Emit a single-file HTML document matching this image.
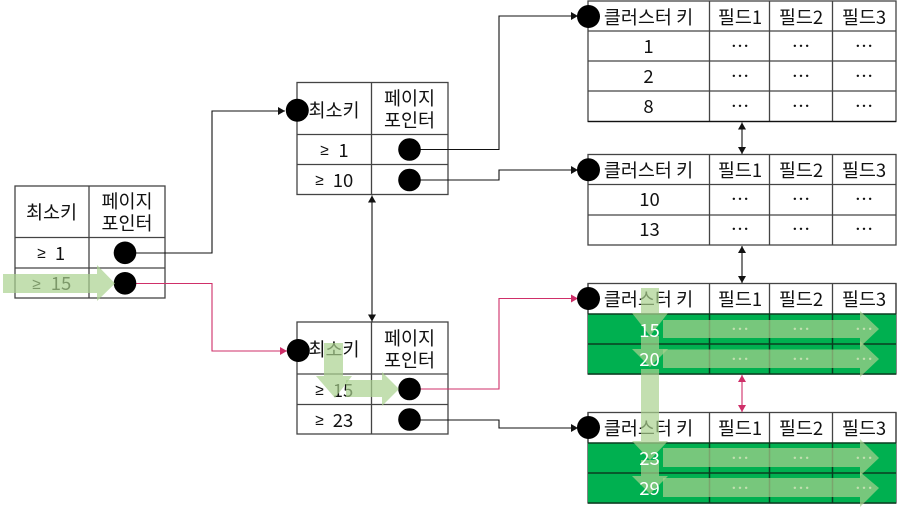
<!DOCTYPE html>
<html><head><meta charset="utf-8">
<style>
html,body{margin:0;padding:0;background:#fff;width:921px;height:513px;overflow:hidden}
svg{display:block;filter:blur(.35px)}
text{font-family:"Noto Sans CJK KR","Liberation Sans",sans-serif;font-size:18.500px;text-anchor:middle;fill:#111;transform:translateY(1px)}
.s{font-family:"Liberation Sans",sans-serif;font-size:15.500px}
.w{fill:#fff}
.t{fill:#fff;stroke:#444;stroke-width:1.3}
.l{fill:none;stroke:#444;stroke-width:1.3}
.g{fill:#00b050;stroke:none}
.d{fill:none;stroke:#0a3d20;stroke-width:1.5}
.b{fill:none;stroke:#111;stroke-width:1.1}
.p{fill:none;stroke:#cf2f69;stroke-width:1.1}
.a{fill:#a9d18e;opacity:.7}
</style></head><body>
<svg width="921" height="513" viewBox="0 0 921 513" xmlns="http://www.w3.org/2000/svg">
<defs>
<marker id="mb" markerWidth="8" markerHeight="8" refX="7" refY="4" orient="auto-start-reverse" markerUnits="userSpaceOnUse"><path d="M0 0L7 4L0 8Z" fill="#111"/></marker>
<marker id="mp" markerWidth="8" markerHeight="8" refX="7" refY="4" orient="auto-start-reverse" markerUnits="userSpaceOnUse"><path d="M0 0L7 4L0 8Z" fill="#cf2f69"/></marker>
</defs>

<!-- left table -->
<rect class="t" x="15" y="186" width="150" height="112"/>
<path class="l" d="M89 186V298M15 237.500H165M15 268H165"/>
<text x="51.500" y="218">최소키</text>
<text x="127" y="207">페이지</text>
<text x="127" y="229">포인터</text>
<text class="s" x="41.500" y="257">≥</text><text x="60" y="259">1</text>
<text class="s" x="36.500" y="288">≥</text><text x="61" y="289">15</text>

<!-- middle tables -->
<rect class="t" x="297" y="82.500" width="151" height="112"/>
<path class="l" d="M371.500 82.500V194.500M297 134.500H448M297 164.500H448"/>
<text x="334" y="116">최소키</text>
<text x="409.500" y="104">페이지</text>
<text x="409.500" y="126">포인터</text>
<text class="s" x="324.500" y="154">≥</text><text x="343.500" y="156">1</text>
<text class="s" x="319.500" y="184">≥</text><text x="343" y="186">10</text>

<rect class="t" x="297" y="322" width="151" height="112"/>
<path class="l" d="M371.500 322V434M297 374H448M297 404.500H448"/>
<text x="334" y="355">최소키</text>
<text x="409.500" y="344">페이지</text>
<text x="409.500" y="366">포인터</text>
<text class="s" x="319.500" y="394">≥</text><text x="343" y="396">15</text>
<text class="s" x="319.500" y="424">≥</text><text x="343" y="426">23</text>

<!-- right table 1 -->
<rect class="t" x="588" y="1" width="308" height="120.500"/>
<path class="l" d="M709.500 1V121.500M769.500 1V121.500M832.500 1V121.500M588 31H896M588 61H896M588 91H896"/>
<path d="M588 121.500H896" stroke="#111" stroke-width="1.3"/>
<text x="648.500" y="23">클러스터 키</text><text x="740" y="23">필드1</text><text x="801" y="23">필드2</text><text x="864" y="23">필드3</text>
<text x="648.500" y="52">1</text><text x="740" y="52">⋯</text><text x="801" y="52">⋯</text><text x="864" y="52">⋯</text>
<text x="648.500" y="82">2</text><text x="740" y="82">⋯</text><text x="801" y="82">⋯</text><text x="864" y="82">⋯</text>
<text x="648.500" y="112">8</text><text x="740" y="112">⋯</text><text x="801" y="112">⋯</text><text x="864" y="112">⋯</text>

<!-- right table 2 -->
<rect class="t" x="588" y="154.500" width="308" height="90.500"/>
<path class="l" d="M709.500 154.500V245M769.500 154.500V245M832.500 154.500V245M588 184.500H896M588 215H896"/>
<text x="648.500" y="176">클러스터 키</text><text x="740" y="176">필드1</text><text x="801" y="176">필드2</text><text x="864" y="176">필드3</text>
<text x="649.500" y="205">10</text><text x="740" y="205">⋯</text><text x="801" y="205">⋯</text><text x="864" y="205">⋯</text>
<text x="649.500" y="235">13</text><text x="740" y="235">⋯</text><text x="801" y="235">⋯</text><text x="864" y="235">⋯</text>

<!-- right table 3 -->
<rect class="t" x="588" y="283.500" width="308" height="90.500"/>
<rect class="g" x="588" y="314" width="308" height="60"/>
<path class="l" d="M709.500 283.500V314M769.500 283.500V314M832.500 283.500V314M588 283.500V314M896 283.500V314"/>
<path class="d" d="M588 314H896M588 344H896M588 374H896M709.500 314V374M769.500 314V374M832.500 314V374"/>
<text x="648.500" y="305">클러스터 키</text><text x="740" y="305">필드1</text><text x="801" y="305">필드2</text><text x="864" y="305">필드3</text>
<text class="w" x="740" y="335">⋯</text><text class="w" x="801" y="335">⋯</text><text class="w" x="864" y="335">⋯</text>
<text class="w" x="740" y="365">⋯</text><text class="w" x="801" y="365">⋯</text><text class="w" x="864" y="365">⋯</text>

<!-- right table 4 -->
<rect class="t" x="588" y="412.500" width="308" height="90.500"/>
<rect class="g" x="588" y="443" width="308" height="60"/>
<path class="l" d="M709.500 412.500V443M769.500 412.500V443M832.500 412.500V443M588 412.500V443M896 412.500V443"/>
<path class="d" d="M588 443H896M588 473H896M588 503H896M709.500 443V503M769.500 443V503M832.500 443V503"/>
<text x="648.500" y="434">클러스터 키</text><text x="740" y="434">필드1</text><text x="801" y="434">필드2</text><text x="864" y="434">필드3</text>
<text class="w" x="740" y="464">⋯</text><text class="w" x="801" y="464">⋯</text><text class="w" x="864" y="464">⋯</text>
<text class="w" x="740" y="494">⋯</text><text class="w" x="801" y="494">⋯</text><text class="w" x="864" y="494">⋯</text>

<!-- connectors -->
<path class="b" marker-end="url(#mb)" d="M136 253H212V111H285"/>
<path class="p" marker-end="url(#mp)" d="M136 283.500H212V351H287"/>
<path class="b" marker-end="url(#mb)" d="M420 149.500H499V16H578"/>
<path class="b" marker-end="url(#mb)" d="M420 180H499V170H578"/>
<path class="p" marker-end="url(#mp)" d="M420 389H499V298.500H578"/>
<path class="b" marker-end="url(#mb)" d="M420 420H499V428H578"/>
<path class="b" marker-start="url(#mb)" marker-end="url(#mb)" d="M372 195.500V321.500"/>
<path class="b" marker-start="url(#mb)" marker-end="url(#mb)" d="M742 122.500V154"/>
<path class="b" marker-start="url(#mb)" marker-end="url(#mb)" d="M742 246V283"/>
<path class="p" marker-start="url(#mp)" marker-end="url(#mp)" d="M742 375V412"/>

<!-- dots -->
<g fill="#000">
<circle cx="125" cy="252.800" r="11.300"/><circle cx="125" cy="283.300" r="11.300"/>
<circle cx="409.500" cy="149.500" r="11.300"/><circle cx="409.500" cy="180" r="11.300"/>
<circle cx="409.500" cy="389" r="11.300"/><circle cx="409.500" cy="419.500" r="11.300"/>
<circle cx="297.300" cy="110.300" r="11.500"/><circle cx="298.300" cy="350.500" r="11.500"/>
<circle cx="588.500" cy="16.500" r="11.500"/><circle cx="588.500" cy="169.800" r="11.500"/>
<circle cx="588.500" cy="298.500" r="11.500"/><circle cx="588.500" cy="427.500" r="11.500"/>
</g>

<!-- access path arrows -->
<path class="a" d="M3 274H97V265L115 283.500L97 301V293H3Z"/>
<path class="a" d="M324 343H343V376H352L335 398L316 376H324Z"/>
<path class="a" d="M346 380H382V372L399 389L382 406V397H346Z"/>
<path class="a" d="M641 288H659V313H668L650 336L632 313H641Z"/>
<path class="a" d="M641 336H659V349H668L650 367L632 349H641Z"/>
<path class="a" d="M641 369H659V441H668L650 460L632 441H641Z"/>
<path class="a" d="M641 460H659V476H668L650 494L632 476H641Z"/>
<path class="a" d="M663 320H860V311L879 329L860 347V338H663Z"/>
<path class="a" d="M663 349.500H860V341L879 359L860 377V368H663Z"/>
<path class="a" d="M663 448H860V439L879 458L860 476V467H663Z"/>
<path class="a" d="M663 478H860V472L879 488L860 507V497H663Z"/>

<!-- key values above the arrows -->
<text class="w" x="649.500" y="336">15</text>
<text class="w" x="649.500" y="365">20</text>
<text class="w" x="649.500" y="464">23</text>
<text class="w" x="649.500" y="494">29</text>
</svg>
</body></html>
